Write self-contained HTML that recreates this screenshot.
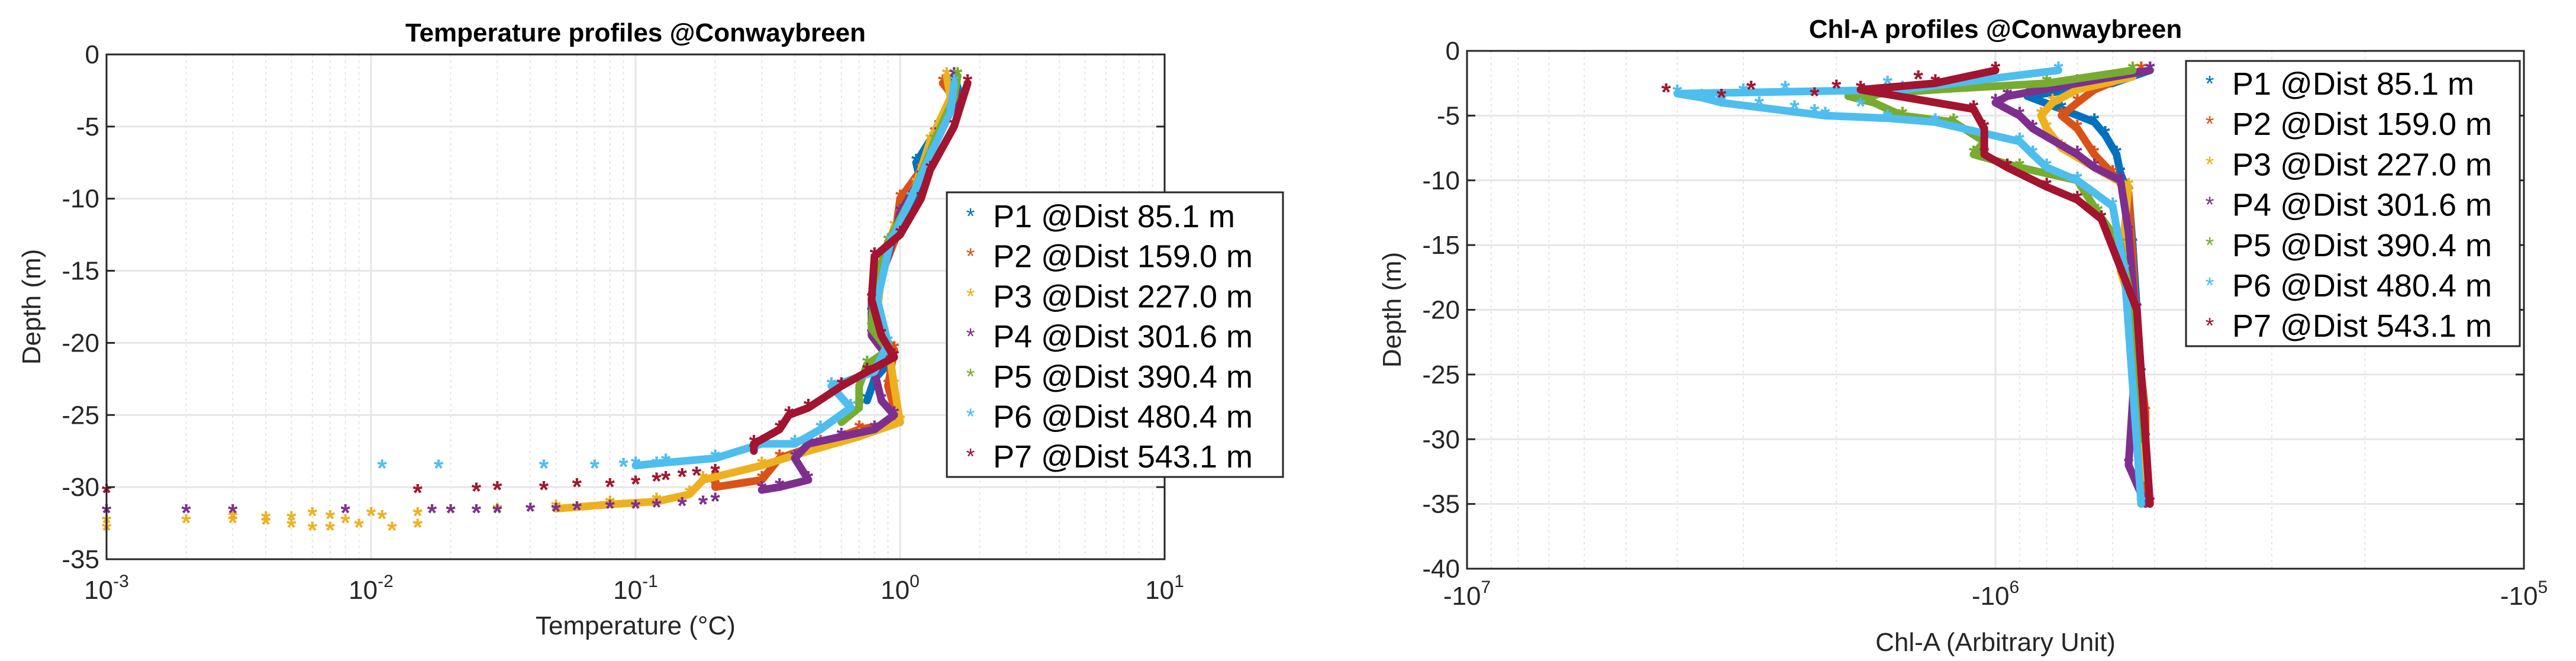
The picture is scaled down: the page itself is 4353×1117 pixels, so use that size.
<!DOCTYPE html>
<html><head><meta charset="utf-8"><style>
body{margin:0;background:#fff}
svg{display:block;font-family:"Liberation Sans","DejaVu Sans",sans-serif}
</style></head><body>
<svg id="fig" width="4353" height="1117" viewBox="0 0 4353 1117" xmlns="http://www.w3.org/2000/svg">
<rect width="4353" height="1117" fill="#fff"/>
<g id="left"></g>
<g id="right"></g>
</svg>
<script>
const colors=["#0072BD","#D95319","#EDB120","#7E2F8E","#77AC30","#4DBEEE","#A2142F"];
const seriesNames=["P1 @Dist 85.1 m","P2 @Dist 159.0 m","P3 @Dist 227.0 m","P4 @Dist 301.6 m","P5 @Dist 390.4 m","P6 @Dist 480.4 m","P7 @Dist 543.1 m"];
// Temperature chart: [temperature °C, depth m]
const tempP1=[[1.6,-1.5],[1.7,-3],[1.4,-5],[1.15,-7.5],[1.2,-9],[1.05,-11],[0.95,-13],[0.85,-15],[0.78,-18],[0.85,-20],[0.95,-21],[0.8,-22.5],[0.75,-24]];
const tempP2=[[1.45,-2],[1.6,-3],[1.35,-5.5],[1.2,-8],[1.0,-10],[0.95,-13],[0.82,-16],[0.82,-19],[0.95,-20.5],[0.9,-23],[0.95,-24.5],[1.0,-25.5],[0.7,-26],[0.5,-27],[0.35,-28],[0.3,-29.5],[0.2,-30],[0.2,-29]];
const tempP3=[[1.5,-1.5],[1.55,-3],[1.3,-6],[1.15,-9],[0.95,-12],[0.85,-15],[0.82,-18],[0.9,-20],[0.95,-23],[1.0,-25.5],[0.7,-26.5],[0.45,-27.5],[0.3,-28.5],[0.18,-29.5],[0.16,-30.5],[0.12,-31],[0.08,-31.2],[0.05,-31.5]];
const tempP3s=[[0.03,-31.7],[0.02,-31.8],[0.015,-32],[0.01,-32],[0.008,-32.5],[0.007,-33],[0.006,-32],[0.005,-32.8],[0.004,-32.3],[0.003,-32.5],[0.002,-32.5],[0.001,-33],[0.012,-33],[0.015,-32.8],[0.009,-32.8],[0.006,-33],[0.004,-32.6],[0.011,-32.2],[0.007,-32.2],[0.005,-32.3],[0.003,-32.2],[0.001,-32.5]];
const tempP4=[[1.6,-1.5],[1.65,-3],[1.4,-5.5],[1.2,-8.5],[1.0,-11],[0.9,-14],[0.78,-17],[0.78,-19.5],[0.9,-21],[0.8,-22],[0.85,-24],[0.95,-25],[0.8,-26],[0.6,-26.5],[0.45,-27],[0.4,-28],[0.45,-29.5],[0.35,-30],[0.3,-30.2]];
const tempP4s=[[0.2,-31],[0.15,-31.3],[0.1,-31.5],[0.06,-31.6],[0.04,-31.7],[0.025,-31.8],[0.017,-31.8],[0.008,-31.8],[0.003,-31.8],[0.002,-31.8],[0.001,-31.8],[0.08,-31.5],[0.12,-31.4],[0.18,-31.2],[0.05,-31.7],[0.03,-31.8],[0.02,-31.8]];
const tempP5=[[1.65,-1.5],[1.6,-3],[1.35,-6],[1.1,-10],[0.9,-13],[0.8,-16],[0.78,-19],[0.9,-20.5],[0.75,-21.5],[0.7,-23],[0.7,-24.5],[0.6,-25.5]];
const tempP6=[[1.6,-2],[1.55,-4],[1.3,-7],[1.1,-10],[0.92,-13],[0.82,-17],[0.9,-20],[0.8,-22],[0.55,-23],[0.65,-24.5],[0.5,-26],[0.4,-27],[0.3,-27],[0.2,-28],[0.13,-28.3],[0.1,-28.5]];
const tempP6s=[[0.07,-28.7],[0.045,-28.7],[0.018,-28.7],[0.011,-28.7],[0.09,-28.6],[0.12,-28.5]];
const tempP7=[[1.8,-2],[1.6,-5],[1.3,-8],[1.2,-10],[1.0,-12.5],[0.8,-14],[0.78,-17],[0.85,-19.5],[0.95,-21],[0.75,-22],[0.6,-23],[0.45,-24.5],[0.38,-25],[0.35,-26],[0.28,-27],[0.28,-27.5]];
const tempP7s=[[0.2,-29],[0.15,-29.3],[0.1,-29.8],[0.08,-30],[0.06,-30],[0.045,-30.2],[0.03,-30.2],[0.025,-30.3],[0.015,-30.4],[0.001,-30.4],[0.13,-29.5],[0.17,-29.2],[0.12,-29.6]];
const tempLines=[tempP1,tempP2,tempP3,tempP4,tempP5,tempP6,tempP7];
const tempScatter=[[],[],tempP3s,tempP4s,[],tempP6s,tempP7s];
const tempXTicks=[-3,-2,-1,0,1];
const tempYTicks=[0,-5,-10,-15,-20,-25,-30,-35];
// Chl-A chart: [chl-a value, depth m]
const chlP1=[[-5.1e5,-1.5],[-6.0e5,-2.5],[-8.7e5,-3.5],[-7.5e5,-4.5],[-6.5e5,-5.5],[-6.2e5,-6.5],[-5.9e5,-8],[-5.8e5,-9.5],[-5.6e5,-11],[-5.5e5,-15],[-5.4e5,-20],[-5.3e5,-25],[-5.2e5,-30],[-5.2e5,-35]];
const chlP2=[[-5.3e5,-1.5],[-6.5e5,-3],[-7.0e5,-4],[-7.5e5,-5],[-7.0e5,-6],[-6.5e5,-8],[-6.0e5,-9.5],[-5.6e5,-11],[-5.5e5,-16],[-5.4e5,-22],[-5.2e5,-28],[-5.2e5,-34]];
const chlP3=[[-5.5e5,-2],[-7.0e5,-3],[-7.8e5,-4],[-8.2e5,-5],[-8.0e5,-6],[-7.5e5,-7.5],[-6.5e5,-9],[-5.6e5,-10.5],[-5.8e5,-17],[-5.5e5,-20],[-5.3e5,-27],[-5.2e5,-33]];
const chlP4=[[-5.1e5,-1.5],[-7.0e5,-2.5],[-9.5e5,-3.5],[-10.0e5,-4],[-9.0e5,-5],[-8.5e5,-6],[-7.0e5,-8],[-6.5e5,-9],[-5.8e5,-10],[-5.6e5,-14],[-5.4e5,-22],[-5.6e5,-32],[-5.2e5,-35]];
const chlP5=[[-5.5e5,-1.5],[-8.0e5,-2.5],[-1.3e6,-3],[-1.9e6,-3.5],[-1.7e6,-4],[-1.5e6,-5],[-1.2e6,-5.5],[-1.05e6,-7],[-1.1e6,-8],[-9e5,-9],[-7e5,-10],[-6.4e5,-12.5],[-5.8e5,-15],[-5.5e5,-20],[-5.3e5,-30]];
const chlP6=[[-7.6e5,-1.5],[-1.5e6,-3],[-4.0e6,-3.3],[-3.6e6,-3.6],[-3.3e6,-4],[-2.1e6,-5],[-1.6e6,-5.2],[-1.3e6,-5.5],[-9e5,-7],[-8.5e5,-8],[-8e5,-9],[-7e5,-10],[-6e5,-12],[-5.7e5,-17],[-5.3e5,-35]];
const chlP6s=[[-3.3e6,-3.8],[-3.0e6,-3.2],[-2.5e6,-3],[-2.2e6,-4.8],[-1.8e6,-4.3],[-1.6e6,-2.6],[-2.8e6,-4.2],[-2.4e6,-4.5]];
const chlP7=[[-1.0e6,-1.5],[-1.3e6,-2.5],[-1.8e6,-3],[-1.1e6,-4.5],[-1.05e6,-6],[-1.05e6,-8],[-9.5e5,-9],[-8.0e5,-10.5],[-7.0e5,-11.5],[-6.3e5,-13],[-5.4e5,-20],[-5.1e5,-35]];
const chlP7s=[[-4.2e6,-3.2],[-3.3e6,-3.6],[-2.9e6,-3.0],[-2.2e6,-3.5],[-1.6e6,-3.5],[-2.0e6,-2.9],[-1.4e6,-2.2]];
const chlLines=[chlP1,chlP2,chlP3,chlP4,chlP5,chlP6,chlP7];
const chlScatter=[[],[],[],[],[],chlP6s,chlP7s];
const chlXTicks=[7,6,5];
const chlYTicks=[0,-5,-10,-15,-20,-25,-30,-35,-40];

const NS="http://www.w3.org/2000/svg";
function mk(parent,tag,attrs,text){const e=document.createElementNS(NS,tag);for(const k in attrs)e.setAttribute(k,attrs[k]);if(text!==undefined)e.textContent=text;parent.appendChild(e);return e;}

function drawChart(g,cfg){
  const {L,R,T,B}=cfg;
  mk(g,'rect',{x:L,y:T,width:R-L,height:B-T,fill:'#fff'});
  for(let d=cfg.dmin;d<cfg.dmax;d++){for(let m=2;m<=9;m++){const x=cfg.xs(Math.log10(m)+d);
    const l=mk(g,'line',{x1:x,x2:x,y1:T,y2:B,stroke:'#e4e4e4','stroke-width':2,'stroke-dasharray':'4 6'});
    }}
  cfg.xticks.forEach(t=>{const x=cfg.xs(t);const l=mk(g,'line',{x1:x,x2:x,y1:T,y2:B,stroke:'#e6e6e6','stroke-width':3});
    });
  cfg.yticks.forEach(t=>{const y=cfg.ys(t);const l=mk(g,'line',{x1:L,x2:R,y1:y,y2:y,stroke:'#e6e6e6','stroke-width':3});
    });
  cfg.lines.forEach((pts,i)=>{
    const s=mk(g,'g',{});
    
    
    const p=pts.map(q=>cfg.px(q[0]).toFixed(1)+','+cfg.ys(q[1]).toFixed(1)).join(' ');
    mk(s,'polyline',{points:p,fill:'none',stroke:colors[i],'stroke-width':13,'stroke-linejoin':'round','stroke-linecap':'round'});
    pts.concat(cfg.scatter[i]).forEach(q=>{const c=mk(s,'text',{x:cfg.px(q[0]),y:cfg.ys(q[1])+14,'text-anchor':'middle','font-size':42,'font-weight':'bold',fill:colors[i]},'*');
      });
  });
  mk(g,'rect',{x:L,y:T,width:R-L,height:B-T,fill:'none',stroke:'#262626','stroke-width':3});
  cfg.yticks.forEach(t=>{const y=cfg.ys(t);
    const lb=mk(g,'text',{x:L-12,y:y+15,'text-anchor':'end','font-size':44,fill:'#262626'},String(t));
    
    mk(g,'line',{x1:L,x2:L+14,y1:y,y2:y,stroke:'#262626','stroke-width':3});
    mk(g,'line',{x1:R,x2:R-14,y1:y,y2:y,stroke:'#262626','stroke-width':3});});
  cfg.xticks.forEach(t=>{const x=cfg.xs(t);
    const lb=mk(g,'text',{x:x,y:cfg.xty,'text-anchor':'middle','font-size':44,fill:'#262626'});
    
    mk(lb,'tspan',{},cfg.neg?'-10':'10');mk(lb,'tspan',{dy:-20,'font-size':30},String(t));});
  const ti=mk(g,'text',{x:(L+R)/2,y:cfg.titleY,'text-anchor':'middle','font-size':44,'font-weight':'bold',fill:'#000'},cfg.title);
  
  const xl=mk(g,'text',{x:(L+R)/2,y:cfg.xlY,'text-anchor':'middle','font-size':44,fill:'#262626'},cfg.xlabel);
  
  const yl=mk(g,'text',{x:cfg.ylX,y:(T+B)/2,'text-anchor':'middle','font-size':44,fill:'#262626',transform:`rotate(-90 ${cfg.ylX} ${(T+B)/2})`},'Depth (m)');
  
  const lg=mk(g,'g',{});
  
  const lb=cfg.leg;
  mk(lg,'rect',{x:lb.x,y:lb.y,width:lb.w,height:lb.h,fill:'#fff',stroke:'#262626','stroke-width':3});
  seriesNames.forEach((n,i)=>{const y=lb.y0+i*lb.dy;
    const e=mk(lg,'g',{});
    
    mk(e,'text',{x:lb.x+40,y:y+14,'text-anchor':'middle','font-size':38,fill:colors[i]},'*');
    mk(e,'text',{x:lb.x+78,y:y+20,'font-size':54,fill:'#000'},n);});
}

(function(){
  const L=180,R=1968,T=92,B=945;
  const xs=v=>L+(v+3)/4*(R-L);
  const ys=d=>T+(0-d)/35*(B-T);
  drawChart(document.getElementById('left'),{L,R,T,B,xs,ys,px:v=>xs(Math.log10(v)),dmin:-3,dmax:1,
    xticks:tempXTicks,yticks:tempYTicks,lines:tempLines,scatter:tempScatter,neg:false,xty:1012,
    title:'Temperature profiles @Conwaybreen',titleY:70,xlabel:'Temperature (°C)',xlY:1072,ylX:68,
    leg:{x:1600,y:325,w:568,h:481,y0:364,dy:67.7}});
})();
(function(){
  const L=2479,R=4265,T=86,B=961;
  const xs=v=>L+(7-v)/2*(R-L);
  const ys=d=>T+(0-d)/40*(B-T);
  drawChart(document.getElementById('right'),{L,R,T,B,xs,ys,px:v=>xs(Math.log10(-v)),dmin:5,dmax:7,
    xticks:chlXTicks,yticks:chlYTicks,lines:chlLines,scatter:chlScatter,neg:true,xty:1022,
    title:'Chl-A profiles @Conwaybreen',titleY:64,xlabel:'Chl-A (Arbitrary Unit)',xlY:1100,ylX:2367,
    leg:{x:3694,y:103,w:564,h:482,y0:140,dy:68.2}});
})();
</script>
</body></html>
